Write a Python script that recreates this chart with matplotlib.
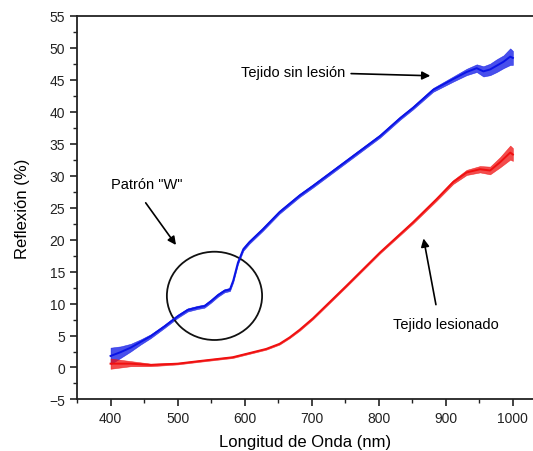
import numpy as np
import matplotlib
matplotlib.use('Agg')
from matplotlib import pyplot as plt
from matplotlib.patches import Ellipse
from matplotlib.ticker import MultipleLocator

plt.rcParams['font.family'] = ['Liberation Sans', 'DejaVu Sans']

# %% Data (wavelength nm, reflexion %)
blue_nm = [400, 415, 430, 445, 460, 480, 500, 515, 530, 540, 550, 560, 570, 578,
           583, 590, 598, 607, 627, 652, 682, 702, 752, 802, 832, 851, 881, 911,
           931, 946, 956, 966, 976, 986, 996, 1000]
blue_val = [1.8, 2.4, 3.1, 4.0, 4.9, 6.4, 8.0, 9.0, 9.4, 9.6, 10.4, 11.3, 12.0, 12.2,
            13.6, 16.4, 18.5, 19.6, 21.6, 24.3, 26.9, 28.4, 32.3, 36.2, 39.0, 40.6, 43.4, 45.1,
            46.2, 46.8, 46.3, 46.6, 47.2, 47.8, 48.6, 48.4]
# half width of the measurement scatter
blue_spread = [1.3, 0.9, 0.6, 0.4, 0.3, 0.25, 0.25, 0.25, 0.25, 0.25, 0.25, 0.25, 0.25, 0.25,
               0.25, 0.25, 0.25, 0.25, 0.25, 0.25, 0.25, 0.25, 0.25, 0.25, 0.25, 0.25, 0.3, 0.4,
               0.5, 0.6, 0.8, 0.9, 1.0, 1.0, 1.3, 1.1]

red_nm = [400, 415, 430, 460, 500, 532, 582, 632, 652, 667, 682, 702, 752, 802, 851,
          886, 911, 931, 951, 966, 981, 996, 1000]
red_val = [0.6, 0.6, 0.6, 0.4, 0.6, 1.0, 1.6, 2.9, 3.7, 4.7, 5.9, 7.7, 12.8, 18.0, 22.7,
           26.3, 29.0, 30.5, 31.0, 30.8, 32.1, 33.6, 33.3]
red_spread = [0.8, 0.6, 0.4, 0.2, 0.12, 0.12, 0.12, 0.12, 0.12, 0.12, 0.15, 0.15, 0.15, 0.15, 0.2,
              0.25, 0.3, 0.4, 0.5, 0.6, 0.8, 1.1, 1.0]

# %%
fig = plt.figure(figsize=(5.33, 4.52), dpi=100)
ax = fig.add_axes([0.1445, 0.114, 0.8555, 0.849])

def plot_spectrum(nm, val, spread, color):
    nm = np.array(nm)
    val = np.array(val)
    spread = np.array(spread)
    ax.fill_between(nm, val - spread, val + spread, color=color, lw=0.4, alpha=0.75)
    ax.plot(nm, val, color=color, lw=1.4)

plot_spectrum(blue_nm, blue_val, blue_spread, '#0a14e6')
plot_spectrum(red_nm, red_val, red_spread, '#f01010')

ax.set_xlim(350, 1030)
ax.set_ylim(-5, 55)
ax.xaxis.set_major_locator(MultipleLocator(100))
ax.xaxis.set_minor_locator(MultipleLocator(50))
ax.yaxis.set_major_locator(MultipleLocator(5))
ax.yaxis.set_minor_locator(MultipleLocator(2.5))
ax.set_xticks(np.arange(400, 1001, 100))
ax.tick_params(which='major', direction='out', length=5, width=1.2, labelsize=10,
               colors='#222222')
ax.tick_params(which='minor', direction='out', length=3, width=1.0, colors='#222222')
ax.spines['right'].set_visible(False)
for side in ['left', 'bottom', 'top']:
    ax.spines[side].set_linewidth(1.3)
    ax.spines[side].set_color('#222222')

ax.set_xlabel('Longitud de Onda (nm)', fontsize=12, labelpad=6)
ax.set_ylabel('Reflexión (%)', fontsize=12, labelpad=14)

# %% Annotations
arrow = dict(arrowstyle='-|>', color='black', lw=1.2, mutation_scale=12)
ax.annotate('Tejido sin lesión', xy=(881, 45.6), xytext=(595, 46.2),
            fontsize=10.5, va='center', ha='left', arrowprops=arrow)
ax.text(400, 28.7, 'Patrón "W"', fontsize=10.5, va='center', ha='left')
ax.annotate('', xy=(500, 18.8), xytext=(450, 26.1), arrowprops=arrow)
ax.add_patch(Ellipse((555, 11.2), 142, 13.8, fill=False, edgecolor='#111111', lw=1.3))
ax.text(900, 6.8, 'Tejido lesionado', fontsize=10.5, va='center', ha='center')
ax.annotate('', xy=(866, 20.6), xytext=(886, 9.4), arrowprops=arrow)

fig.savefig('out.png', dpi=100)
